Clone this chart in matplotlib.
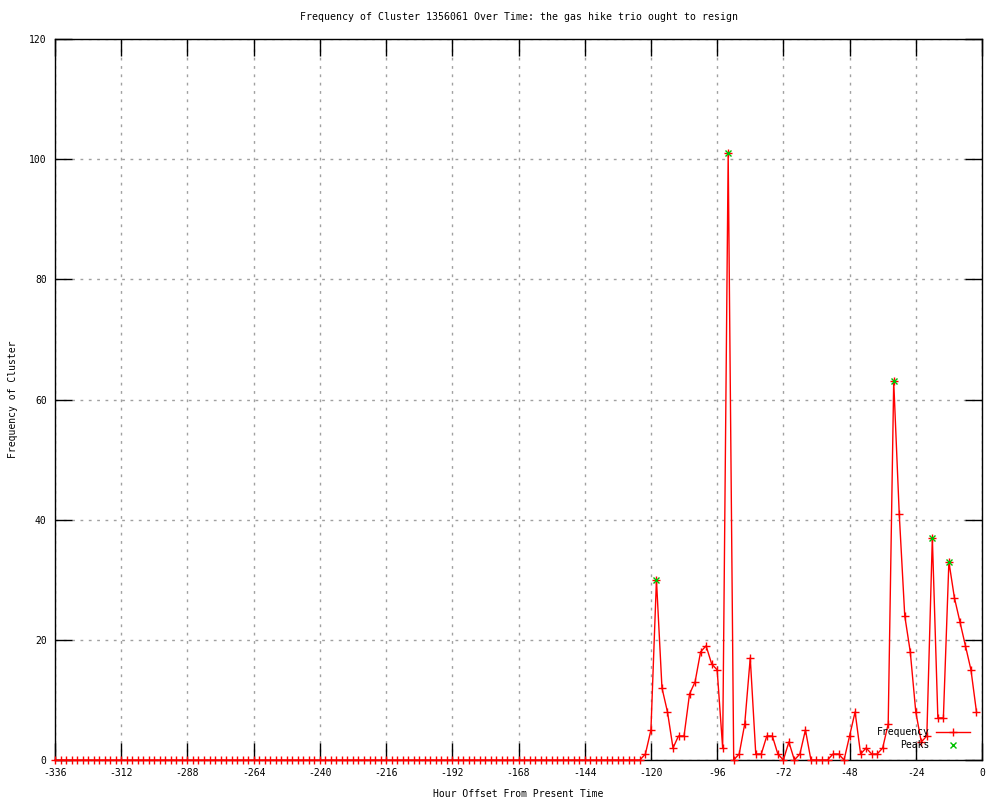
import matplotlib
matplotlib.use("Agg")
import matplotlib.pyplot as plt
from matplotlib.lines import Line2D

hours = list(range(-336, 0, 2))
frequency = [
    0, 0, 0, 0, 0, 0, 0, 0, 0, 0, 0, 0, 0, 0, 0, 0, 0, 0, 0, 0,
    0, 0, 0, 0, 0, 0, 0, 0, 0, 0, 0, 0, 0, 0, 0, 0, 0, 0, 0, 0,
    0, 0, 0, 0, 0, 0, 0, 0, 0, 0, 0, 0, 0, 0, 0, 0, 0, 0, 0, 0,
    0, 0, 0, 0, 0, 0, 0, 0, 0, 0, 0, 0, 0, 0, 0, 0, 0, 0, 0, 0,
    0, 0, 0, 0, 0, 0, 0, 0, 0, 0, 0, 0, 0, 0, 0, 0, 0, 0, 0, 0,
    0, 0, 0, 0, 0, 0, 0,
    1, 5, 30, 12, 8, 2, 4, 4, 11, 13, 18, 19, 16, 15, 2, 101,
    0, 1, 6, 17, 1, 1, 4, 4, 1, 0, 3, 0, 1, 5, 0, 0, 0, 0, 1, 1,
    0, 4, 8, 1, 2, 1, 1, 2, 6, 63, 41, 24, 18, 8, 3, 4, 37, 7, 7,
    33, 27, 23, 19, 15, 8,
]
peak_hours = [-118, -92, -32, -18, -12]
peak_values = [30, 101, 63, 37, 33]

xticks = list(range(-336, 1, 24))
yticks = list(range(0, 121, 20))

plt.rcParams['font.family'] = ['DejaVu Sans Mono']
plt.rcParams['font.size'] = 7

fig = plt.figure(figsize=(10, 8), dpi=100)
ax = fig.add_axes([0.055, 0.05, 0.927, 0.90125])

ax.plot(hours, frequency, color='red', lw=1, marker='+', ms=5.5, mew=1,
        clip_on=False, zorder=3, label='Frequency')
ax.plot(peak_hours, peak_values, ls='none', color='#00c000', marker='x', ms=5,
        mew=1, clip_on=False, zorder=4, label='Peaks')

ax.set_xlim(-336, 0)
ax.set_ylim(0, 120)
ax.set_xticks(xticks)
ax.set_yticks(yticks)
ax.set_xticklabels([str(t) for t in xticks])
ax.tick_params(direction='in', length=12, width=1, top=True, right=True,
               labelsize=7, pad=6)
ax.grid(True, color='#a0a0a0', ls=(0, (2, 4)), lw=1)
for s in ax.spines.values():
    s.set_linewidth(1)
ax.set_axisbelow(True)

ax.set_title('Frequency of Cluster 1356061 Over Time: the gas hike trio ought to resign',
             fontsize=7.15, pad=14)
ax.set_xlabel('Hour Offset From Present Time', fontsize=7, labelpad=8)
ax.set_ylabel('Frequency of Cluster', fontsize=7, labelpad=8)

handles = [Line2D([], [], color='red', lw=1, marker='+', ms=5.5, mew=1),
           Line2D([], [], ls='none', color='#00c000', marker='x', ms=5, mew=1)]
ax.legend(handles, ['Frequency', 'Peaks'], loc='lower right', frameon=False,
          markerfirst=False, fontsize=7, handlelength=3.5, handletextpad=0.6,
          borderaxespad=0.3, labelspacing=0.3, bbox_to_anchor=(0.994, 0.004))

fig.savefig('out.png', dpi=100)
